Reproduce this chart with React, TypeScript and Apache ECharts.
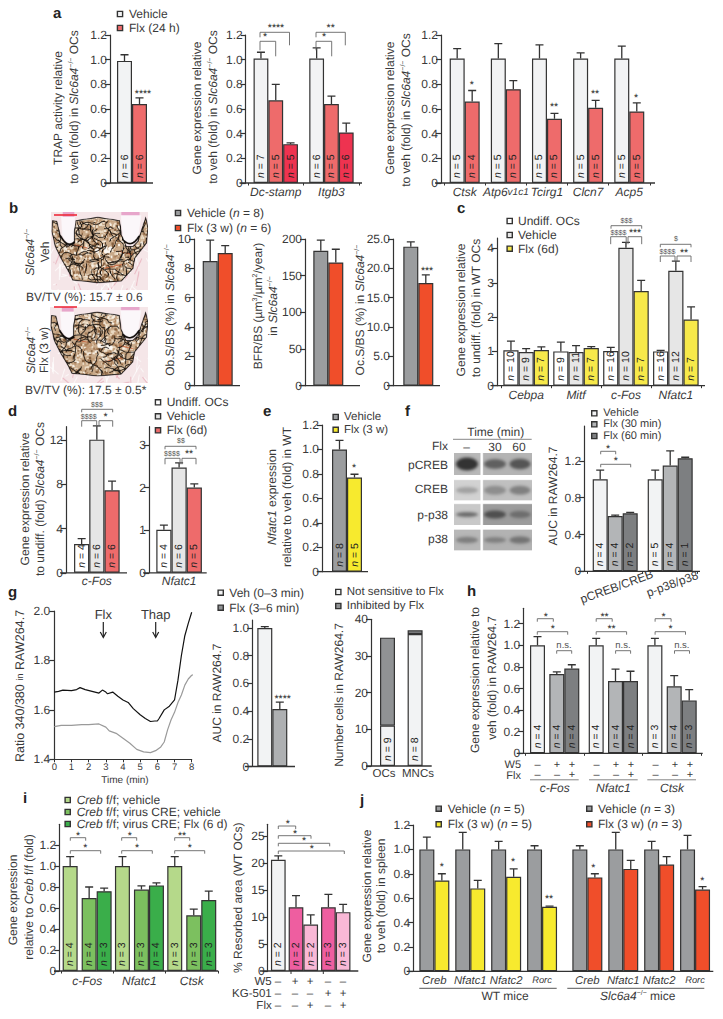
import React, { useEffect, useRef } from "react";
import * as echarts from "echarts";

const FONT = "Liberation Sans";
const INK = "#3a3a3a";
const AXIS = "#333333";
const WHITE = "#ffffff";
const PALE = "#f2f3f4";
const LIGHT = "#e6e6e6";
const SALMON = "#ee6b6b";
const CRIMSON = "#ee3350";
const GREY = "#9b9d9f";
const ORANGE = "#f04e2a";
const YELLOW = "#f7ea2e";
const LEMON = "#f7e94a";
const MID = "#b3b5b7";
const DARK = "#7d7f81";
const DARKER = "#909294";
const LIME = "#b5d98a";
const LEAF = "#7cc05f";
const GREEN = "#3aae4a";
const PINK = "#ee5ea0";
const BLUSH = "#f9b8d6";

const ticks12 = [0, 0.2, 0.4, 0.6, 0.8, 1.0, 1.2];

// a
const a1Veh = [0.99], a1VehErr = [1.04], a1VehN = [6];
const a1Flx = [0.64], a1FlxErr = [0.69], a1FlxN = [6];
const a2Cats = ["Dc-stamp", "Itgb3"];
const a2Veh = [1.01, 1.01], a2VehErr = [1.06, 1.095], a2VehN = [7, 6];
const a2Flx = [0.67, 0.64], a2FlxErr = [0.8, 0.705], a2FlxN = [5, 5];
const a2Hi = [0.315, 0.41], a2HiErr = [0.325, 0.485], a2HiN = [5, 6];
const a3Cats = ["Ctsk", "Atp6v1c1", "Tcirg1", "Clcn7", "Acp5"];
const a3Veh = [1.01, 1.01, 1.01, 1.01, 1.01], a3VehErr = [1.09, 1.13, 1.12, 1.055, 1.11], a3VehN = [5, 5, 5, 5, 5];
const a3Flx = [0.66, 0.76, 0.52, 0.61, 0.58], a3FlxErr = [0.75, 0.83, 0.565, 0.67, 0.65], a3FlxN = [4, 5, 5, 5, 5];
// b
const b1Veh = [8.5], b1VehErr = [9.93], b1Flx = [9.05], b1FlxErr = [9.55];
const b2Veh = [184], b2VehErr = [198.6], b2Flx = [168], b2FlxErr = [186];
const b3Veh = [23.7], b3VehErr = [24.5], b3Flx = [17.5], b3FlxErr = [18.9];
// c
const cCats = ["Cebpa", "Mitf", "c-Fos", "Nfatc1"];
const cUnd = [1.03, 1.0, 1.01, 1.0], cUndErr = [1.3, 1.27, 1.12, 1.03], cUndN = [10, 9, 16, 16];
const cVeh = [0.98, 0.98, 4.02, 3.35], cVehErr = [1.08, 1.17, 4.18, 3.63], cVehN = [9, 11, 10, 12];
const cFlx = [1.04, 1.1, 2.76, 1.93], cFlxErr = [1.13, 1.14, 3.07, 2.3], cFlxN = [7, 7, 7, 7];
// d
const d1Cats = ["c-Fos"];
const d1Vals = [2.6, 12.05, 7.46], d1Errs = [3.1, 13.3, 8.3], d1Ns = [4, 6, 6];
const d2Cats = ["Nfatc1"];
const d2Vals = [1.01, 2.47, 2.0], d2Errs = [1.12, 2.58, 2.09], d2Ns = [4, 6, 5];
// e
const eVeh = [1.0], eVehErr = [1.075], eVehN = [8], eFlx = [0.77], eFlxErr = [0.797], eFlxN = [5];
// f
const fCats = ["pCREB/CREB", "p-p38/p38"];
const fVeh = [1.0, 1.0], fVehErr = [1.1, 1.1], fVehN = [4, 5];
const f30 = [0.6, 1.15], f30Err = [0.61, 1.31], f30N = [4, 4];
const f60 = [0.63, 1.23], f60Err = [0.64, 1.24], f60N = [2, 1];
// g
const gBlackTime = [0, 0.25, 0.5, 1.0, 1.3, 1.5, 1.8, 2.2, 2.6, 2.8, 3.0, 3.1, 3.4, 3.7, 4.0, 4.3, 4.6, 5.0, 5.3, 5.6, 5.85, 6.0, 6.1, 6.4, 6.7, 7.0, 7.2, 7.4, 7.6, 7.8, 8.0];
const gBlack = [1.672, 1.675, 1.68, 1.678, 1.682, 1.69, 1.682, 1.675, 1.668, 1.68, 1.672, 1.665, 1.672, 1.655, 1.64, 1.63, 1.605, 1.58, 1.565, 1.553, 1.555, 1.555, 1.565, 1.6, 1.615, 1.64, 1.72, 1.82, 1.9, 1.95, 1.995];
const gGreyTime = [0, 0.4, 1.0, 1.6, 2.0, 2.6, 3.0, 3.2, 3.6, 4.0, 4.4, 4.8, 5.2, 5.6, 5.9, 6.2, 6.4, 6.6, 6.8, 7.0, 7.2, 7.4, 7.6, 7.8, 8.0, 8.26];
const gGrey = [1.532, 1.537, 1.537, 1.54, 1.54, 1.543, 1.53, 1.515, 1.505, 1.485, 1.465, 1.44, 1.43, 1.427, 1.435, 1.45, 1.47, 1.52, 1.56, 1.59, 1.63, 1.66, 1.7, 1.725, 1.74, 1.745];
const gTimeTicks = [0, 1, 2, 3, 4, 5, 6, 7, 8];
const g2Veh = [1.0], g2VehErr = [1.01], g2Flx = [0.415], g2FlxErr = [0.465];
const g3Cats = ["OCs", "MNCs"];
const g3Sensitive = [11, 36], g3Inhibited = [24, 1], g3Ns = [9, 8];
// h
const hCats = ["c-Fos", "Nfatc1", "Ctsk"];
const hVeh = [1.0, 1.0, 1.0], hVehErr = [1.08, 1.065, 1.065], hVehN = [4, 4, 3];
const hW5 = [0.735, 0.67, 0.62], hW5Err = [0.755, 0.78, 0.72], hW5N = [4, 4, 4];
const hFlx = [0.785, 0.67, 0.49], hFlxErr = [0.82, 0.76, 0.59], hFlxN = [4, 4, 3];
// i
const iCats = ["c-Fos", "Nfatc1", "Ctsk"];
const iVeh = [1.0, 1.0, 1.0], iVehErr = [1.09, 1.09, 1.09], iVehN = [4, 3, 3];
const iCre = [0.695, 0.775, 0.53], iCreErr = [0.8, 0.81, 0.59], iCreN = [4, 3, 3];
const iFlx = [0.76, 0.815, 0.675], iFlxErr = [0.79, 0.84, 0.76], iFlxN = [3, 4, 3];
const i2Vals = [20.6, 11.8, 8.6, 11.8, 10.9], i2Errs = [21.3, 13.95, 10.4, 14.2, 12.35], i2Ns = [2, 2, 2, 3, 3];
const i2Colors = [PALE, PINK, BLUSH, PINK, BLUSH];
// j
const jCats = ["Creb", "Nfatc1", "Nfatc2", "Rorc"];
const jWtVeh = [1.0, 1.0, 1.0, 1.0], jWtVehErr = [1.1, 1.14, 1.065, 1.03];
const jWtFlx = [0.745, 0.68, 0.775, 0.53], jWtFlxErr = [0.8, 0.745, 0.84, 0.535];
const jKoVeh = [1.0, 1.0, 1.0, 1.0], jKoVehErr = [1.03, 1.14, 1.065, 1.115];
const jKoFlx = [0.77, 0.84, 0.875, 0.67], jKoFlxErr = [0.8, 0.91, 0.94, 0.695];

const SLC = "{i|Slc6a4}{sup|−/−}";

function richFor(size: number) {
  return {
    i: { fontStyle: "italic", fontSize: size, fontFamily: FONT, fill: INK, color: INK },
    sup: { fontSize: Math.round(size * 0.62), fontFamily: FONT, fill: INK, color: INK, verticalAlign: "top" },
    s: { fontSize: size - 2, fontFamily: FONT, fill: INK, color: INK, fontStyle: "italic" },
    u: { fontSize: size - 3, fontFamily: FONT, fill: INK, color: INK },
  };
}

function T(text: string, x: number, y: number, o: any = {}) {
  const size = o.size || 12;
  return {
    type: "text", x, y, rotation: o.rot || 0, z: 10, silent: true,
    style: {
      text, fontSize: size, fontFamily: FONT,
      fontWeight: o.bold ? "bold" : "normal",
      fontStyle: o.italic ? "italic" : "normal",
      fill: o.color || INK, align: o.align || "left", verticalAlign: "middle",
      rich: richFor(size),
    },
  };
}
const VT = (text: string, x: number, y: number, o: any = {}) => T(text, x, y, { ...o, rot: Math.PI / 2, align: "center" });
const C = (text: string, x: number, y: number, o: any = {}) => T(text, x, y, { ...o, align: "center" });
const STAR = (text: string, x: number, y: number) => C(text, x, y + 2, { size: 10.5, color: "#2e2e2e" });
const DOL = (text: string, x: number, y: number) => C(text, x, y, { size: 7.2, color: "#555" });
const LET = (text: string, x: number, y: number) => T(text, x, y, { size: 15, bold: true, color: "#222" });
function L(x1: number, y1: number, x2: number, y2: number, stroke = AXIS, lineWidth = 1.2) {
  return { type: "line", z: 10, silent: true, shape: { x1, y1, x2, y2 }, style: { stroke, lineWidth } };
}
function BR(x1: number, x2: number, y: number, d1: number, d2: number) {
  return {
    type: "polyline", z: 10, silent: true,
    shape: { points: [[x1, y + d1], [x1, y], [x2, y], [x2, y + d2]] },
    style: { stroke: "#666", lineWidth: 0.9, fill: "none" },
  };
}
function SQ(x: number, y: number, fill: string, label: string, tx: number, size = 12) {
  return [
    { type: "rect", z: 10, silent: true, shape: { x: x - 2.6, y: y - 2.6, width: 5.2, height: 5.2 }, style: { fill, stroke: AXIS, lineWidth: 1.4 } },
    T(label, tx, y, { size }),
  ];
}

type S = { name?: string; values?: number[]; errs?: number[]; ns?: number[]; color?: string; stack?: string; spacer?: number };

function addPanel(opt: any, p: any) {
  const gi = opt.grid.length;
  const n = p.cats.length;
  opt.grid.push({ left: p.bandStart, top: p.top, width: p.pitch * n, height: p.bottom - p.top });
  opt.xAxis.push({
    gridIndex: gi, type: "category", data: p.cats,
    axisLine: { show: false },
    axisTick: { show: n > 1 && p.catTicks !== false, length: 2.5, lineStyle: { color: AXIS, width: 1 } },
    axisLabel: {
      show: !!p.showCats, interval: 0, margin: p.labelMargin ?? 3,
      fontFamily: FONT, fontSize: p.labelSize || 12, fontStyle: p.labelItalic === false ? "normal" : "italic",
      color: INK, formatter: p.labelFmt, rich: richFor(p.labelSize || 12),
    },
    splitLine: { show: false },
  });
  const dec = p.dec ?? 1;
  opt.yAxis.push({
    gridIndex: gi, type: "value", min: 0, max: p.max, offset: p.bandStart - p.axisX,
    axisLine: { show: !p.hideY, lineStyle: { color: AXIS, width: 1.2 } },
    axisTick: { show: !p.hideY, length: 5, customValues: p.ticks, lineStyle: { color: AXIS, width: 1.2 } },
    axisLabel: {
      show: !p.hideY, customValues: p.ticks, margin: 3, fontFamily: FONT, fontSize: 12, color: INK,
      formatter: (v: number) => (v === 0 ? "0" : v.toFixed(dec)),
    },
    splitLine: { show: false },
  });
  if (p.x1) opt.graphic.push(L(p.x0, p.bottom, p.x1, p.bottom, AXIS, 1.3));

  const barW = p.barW || 15;
  const seen: Record<string, number> = {};
  const slots: number[] = [];
  const centres: number[] = [];
  (p.series as S[]).forEach((s, k) => {
    if (s.stack && seen[s.stack] !== undefined) { centres[k] = seen[s.stack]; return; }
    centres[k] = slots.length;
    if (s.stack) seen[s.stack] = slots.length;
    slots.push(s.spacer ?? barW);
  });
  const total = slots.reduce((a, b) => a + b, 0);
  const offsetOf = (k: number) => {
    let c = -total / 2;
    for (let j = 0; j < centres[k]; j++) c += slots[j];
    return c + slots[centres[k]] / 2;
  };

  (p.series as S[]).forEach((s, k) => {
    if (s.spacer) {
      opt.series.push({
        type: "bar", xAxisIndex: gi, yAxisIndex: gi, barWidth: s.spacer, barGap: 0,
        data: p.cats.map(() => null), silent: true,
      });
      return;
    }
    const ns = s.ns;
    opt.series.push({
      type: "bar", name: s.name, xAxisIndex: gi, yAxisIndex: gi, barWidth: barW, barGap: 0, stack: s.stack,
      data: s.values, silent: true,
      itemStyle: { color: s.color, borderColor: AXIS, borderWidth: 1.2 },
      label: ns ? {
        show: true, position: "insideBottom", rotate: 90, distance: 5, align: "left", verticalAlign: "middle",
        fontFamily: FONT, fontSize: 10.5, color: "#222",
        formatter: (pr: any) => `{i|n} = ${ns[pr.dataIndex]}`,
        rich: { i: { fontStyle: "italic", fontSize: 10.5, fontFamily: FONT, color: "#222" } },
      } : { show: false },
    });
    if (s.errs) {
      const off = offsetOf(k);
      opt.series.push({
        type: "custom", xAxisIndex: gi, yAxisIndex: gi, silent: true, z: 1,
        data: s.errs.map((e, c) => [c, e, (s.values as number[])[c]]),
        encode: { x: 0, y: [1, 2] },
        renderItem: (_: any, api: any) => {
          const t = api.coord([api.value(0), api.value(1)]);
          const b = api.coord([api.value(0), api.value(2)]);
          const x = t[0] + off;
          return {
            type: "polyline",
            shape: { points: [[x, b[1]], [x, t[1]], [x - 4, t[1]], [x + 4, t[1]]] },
            style: { stroke: AXIS, lineWidth: 1.3, fill: "none" },
          };
        },
      });
    }
  });
}

function makeRng(seed: number) {
  let s = seed;
  return () => { s = (s * 1664525 + 1013904223) % 4294967296; return s / 4294967296; };
}

function histology(seed: number, w: number, h: number) {
  const k = 3;
  const cv = document.createElement("canvas");
  cv.width = w * k; cv.height = h * k;
  const c = cv.getContext("2d") as CanvasRenderingContext2D;
  const r = makeRng(seed);
  const sx = (w * k) / 290, sy = (h * k) / 233;
  const P = (z: number[]) => [(z[0] - 95) * sx, (z[1] - 22) * sy];
  const poly = (pts: number[][]) => {
    c.beginPath();
    pts.forEach((p, i) => { const q = P(p); if (i) c.lineTo(q[0], q[1]); else c.moveTo(q[0], q[1]); });
    c.closePath();
  };
  c.fillStyle = "#f5e6e8"; c.fillRect(0, 0, cv.width, cv.height);
  c.lineWidth = 3;
  for (let i = 0; i < 60; i++) {
    c.strokeStyle = i % 3 ? "rgba(255,255,255,0.75)" : "rgba(222,130,150,0.45)";
    const a = P([95 + r() * 290, 130 + r() * 125]);
    c.beginPath(); c.moveTo(a[0], a[1]); c.lineTo(a[0] + (r() - 0.5) * 60, a[1] + r() * 50); c.stroke();
  }
  c.fillStyle = "#e7a6cb";
  poly([[130, 22], [165, 22], [165, 36], [130, 36]]); c.fill();
  poly([[305, 22], [360, 22], [360, 32], [305, 32]]); c.fill();
  c.fillStyle = "#fbf7fa";
  poly([[125, 36], [166, 36], [166, 112], [145, 122], [128, 90]]); c.fill();
  poly([[303, 32], [365, 32], [355, 105], [335, 122], [312, 110]]); c.fill();
  const shape = [[170, 48], [235, 38], [300, 48], [305, 90], [320, 125], [340, 125], [355, 110], [368, 70], [378, 40], [385, 70], [380, 115], [345, 160], [340, 190], [305, 228], [235, 233], [160, 225], [148, 200], [125, 160], [108, 125], [98, 80], [100, 48], [112, 50], [122, 90], [145, 125], [165, 115], [165, 80]];
  c.save();
  poly(shape); c.clip();
  c.fillStyle = "#c9aa8a"; c.fillRect(0, 0, cv.width, cv.height);
  const cols = ["#ead9c2", "#a57c58", "#f6efe4", "#bf9874", "#86603f", "#efe0cb"];
  for (let i = 0; i < 1500; i++) {
    c.fillStyle = cols[Math.floor(r() * cols.length)];
    c.fillRect(r() * cv.width, r() * cv.height, 3 + r() * 6, 3 + r() * 6);
  }
  c.fillStyle = "#fbf7f2";
  const wp = P([250, 135]);
  for (let i = 0; i < 12; i++) {
    c.beginPath(); c.arc(wp[0] + (r() - 0.5) * 50, wp[1] + (r() - 0.5) * 26, 2 + r() * 5, 0, 7); c.fill();
  }
  c.strokeStyle = "#c9623a"; c.lineWidth = 2.5;
  [[165, 120, 205, 130], [255, 190, 310, 178], [300, 140, 340, 150]].forEach((q) => {
    const a = P([q[0], q[1]]), b = P([q[2], q[3]]);
    c.beginPath(); c.moveTo(a[0], a[1]); c.lineTo(b[0], b[1]); c.stroke();
  });
  c.strokeStyle = "#15100c"; c.lineWidth = 2.4; c.lineJoin = "round";
  for (let i = 0; i < 110; i++) {
    let a = P([110 + r() * 270, 45 + r() * 185]);
    let ang = r() * 6.28;
    c.beginPath(); c.moveTo(a[0], a[1]);
    const steps = 3 + Math.floor(r() * 5);
    for (let j = 0; j < steps; j++) {
      ang += (r() - 0.5) * 1.8;
      a = [a[0] + Math.cos(ang) * 10, a[1] + Math.sin(ang) * 10];
      c.lineTo(a[0], a[1]);
    }
    c.stroke();
  }
  c.restore();
  c.strokeStyle = "#100c0a"; c.lineWidth = 2.6; poly(shape); c.stroke();
  c.lineWidth = 5; c.lineCap = "round";
  c.beginPath();
  const n1 = P([124, 95]), n2 = P([145, 125]), n3 = P([164, 112]);
  c.moveTo(n1[0], n1[1]); c.quadraticCurveTo(n2[0], n2[1] + 6, n3[0], n3[1]); c.stroke();
  c.beginPath();
  const m1 = P([310, 105]), m2 = P([335, 126]), m3 = P([358, 95]);
  c.moveTo(m1[0], m1[1]); c.quadraticCurveTo(m2[0], m2[1] + 6, m3[0], m3[1]); c.stroke();
  c.strokeStyle = "#e6e6e0"; c.lineWidth = 1.6; c.setLineDash([3, 3]);
  c.beginPath();
  const t1 = P([172, 50]), t2 = P([235, 38]), t3 = P([298, 50]);
  c.moveTo(t1[0], t1[1]); c.quadraticCurveTo(t2[0], t2[1] - 2, t3[0], t3[1]); c.stroke();
  return cv.toDataURL("image/png");
}

function blot() {
  const k = 3, w = 78, h = 98;
  const cv = document.createElement("canvas");
  cv.width = w * k; cv.height = h * k;
  const c = cv.getContext("2d") as CanvasRenderingContext2D;
  c.fillStyle = "#fff"; c.fillRect(0, 0, cv.width, cv.height);
  const rows = [
    { y: 0, h: 22, bg: ["#b8b8b8", "#b4b4b4"], b: [["#333333", 8], ["#606060", 6], ["#555555", 6.5]] },
    { y: 27, h: 20.5, bg: ["#d2d2d2", "#c0c0c0"], b: [["#a2a2a2", 4], ["#8e8e8e", 5.5], ["#808080", 5.5]] },
    { y: 51, h: 21, bg: ["#c8c8c8", "#9c9c9c"], b: [["#6a6a6a", 3], ["#4f4f4f", 5], ["#6e6e6e", 4.5]] },
    { y: 76.5, h: 21, bg: ["#b8b8b8", "#b2b2b2"], b: [["#7f7f7f", 4], ["#808080", 3.5], ["#747474", 4.5]] },
  ];
  const cx = [13, 41, 66], rx = [11, 11, 10.5];
  rows.forEach((row: any) => {
    [[0, 26.5, 0], [29, 49, 1]].forEach(([x, wd, idx]) => {
      c.save();
      c.beginPath(); c.rect(x * k, row.y * k, wd * k, row.h * k); c.clip();
      c.fillStyle = row.bg[idx]; c.fillRect(x * k, row.y * k, wd * k, row.h * k);
      (c as any).filter = "blur(4px)";
      row.b.forEach((b: any, i: number) => {
        if ((i === 0) !== (idx === 0)) return;
        c.fillStyle = b[0];
        c.beginPath();
        c.ellipse(cx[i] * k, (row.y + row.h / 2) * k, rx[i] * k, b[1] * k * 0.8, 0, 0, 7);
        c.fill();
      });
      c.restore();
    });
  });
  return cv.toDataURL("image/png");
}

function buildOption() {
  const opt: any = {
    animation: false, backgroundColor: "#ffffff", tooltip: { show: false },
    grid: [], xAxis: [], yAxis: [], series: [], graphic: [],
  };
  const g = opt.graphic as any[];

  // a
  addPanel(opt, { axisX: 110, x0: 104, x1: 153, top: 35, bottom: 183, max: 1.2, ticks: ticks12, bandStart: 110, pitch: 44, cats: [""],
    series: [{ name: "Vehicle", values: a1Veh, errs: a1VehErr, ns: a1VehN, color: PALE }, { name: "Flx (24 h)", values: a1Flx, errs: a1FlxErr, ns: a1FlxN, color: SALMON }] });
  addPanel(opt, { axisX: 245.7, x0: 239.5, x1: 362, top: 35, bottom: 183, max: 1.2, ticks: ticks12, bandStart: 247.9, pitch: 55.7, cats: a2Cats, showCats: true, barW: 14.8,
    series: [{ values: a2Veh, errs: a2VehErr, ns: a2VehN, color: PALE }, { values: a2Flx, errs: a2FlxErr, ns: a2FlxN, color: SALMON }, { values: a2Hi, errs: a2HiErr, ns: a2HiN, color: CRIMSON }] });
  addPanel(opt, { axisX: 441, x0: 435, x1: 655, top: 35, bottom: 183, max: 1.2, ticks: ticks12, bandStart: 444.1, pitch: 41.15, cats: a3Cats, showCats: true,
    labelFmt: (v: string) => (v === "Atp6v1c1" ? "Atp6{s|v1c1}" : v),
    series: [{ values: a3Veh, errs: a3VehErr, ns: a3VehN, color: PALE }, { values: a3Flx, errs: a3FlxErr, ns: a3FlxN, color: SALMON }] });
  g.push(LET("a", 53, 13));
  g.push(...SQ(120, 14, PALE, "Vehicle", 129), ...SQ(120, 28, SALMON, "Flx (24 h)", 129));
  g.push(VT("TRAP activity relative", 58, 108), VT(`to veh (fold) in ${SLC} OCs`, 74, 107));
  g.push(VT("Gene expression relative", 197, 108), VT(`to veh (fold) in ${SLC} OCs`, 213, 107));
  g.push(VT("Gene expression relative", 390, 108), VT(`to veh (fold) in ${SLC} OCs`, 406, 110));
  g.push(STAR("****", 143, 92));
  g.push(BR(260, 289.5, 32.3, 5, 13), BR(260, 275.7, 41.3, 9, 15), STAR("****", 276, 26), STAR("*", 265, 35));
  g.push(BR(316, 345.3, 32.3, 5, 13), BR(316, 331.7, 41.3, 9, 15), STAR("**", 330.7, 26), STAR("*", 324, 35));
  g.push(STAR("*", 471.7, 83), STAR("**", 554, 105), STAR("**", 595, 92), STAR("*", 636, 96));

  // b
  addPanel(opt, { axisX: 194, x0: 188, x1: 240, top: 239, bottom: 385.7, max: 10, ticks: [0, 2, 4, 6, 8, 10], dec: 0, bandStart: 194, pitch: 47.4, cats: [""],
    series: [{ values: b1Veh, errs: b1VehErr, color: GREY }, { values: b1Flx, errs: b1FlxErr, color: ORANGE }] });
  addPanel(opt, { axisX: 305, x0: 299, x1: 360, top: 239, bottom: 385.7, max: 200, ticks: [0, 50, 100, 150, 200], dec: 0, bandStart: 305, pitch: 46.6, cats: [""],
    series: [{ values: b2Veh, errs: b2VehErr, color: GREY }, { values: b2Flx, errs: b2FlxErr, color: ORANGE }] });
  addPanel(opt, { axisX: 393, x0: 387, x1: 440, top: 239, bottom: 385.7, max: 25, ticks: [0, 5, 10, 15, 20, 25], dec: 1, bandStart: 393, pitch: 50.6, cats: [""],
    series: [{ values: b3Veh, errs: b3VehErr, color: GREY }, { values: b3Flx, errs: b3FlxErr, color: ORANGE }] });
  g.push(LET("b", 9, 208));
  g.push({ type: "image", z: 5, silent: true, x: 51, y: 212, style: { image: histology(7, 97, 78), width: 97, height: 78 } });
  g.push({ type: "image", z: 5, silent: true, x: 50, y: 307, style: { image: histology(21, 98, 76), width: 98, height: 76 } });
  g.push(L(54, 215, 77, 215, "#ee2b3a", 1.6), L(54, 307, 77, 307, "#ee2b3a", 1.6));
  g.push(T("BV/TV (%): 15.7 ± 0.6", 26, 297), T("BV/TV (%): 17.5 ± 0.5*", 25, 390));
  g.push(VT(SLC, 30, 252), VT("Veh", 45, 252), VT(SLC, 31, 350), VT("Flx (3 w)", 44, 350));
  g.push(...SQ(178, 213, GREY, "Vehicle ({i|n} = 8)", 187), ...SQ(178, 228, ORANGE, "Flx (3 w) ({i|n} = 6)", 187));
  g.push(VT(`Ob.S/BS (%) in ${SLC}`, 170, 310), VT("BFR/BS (µm{sup|3}/µm{sup|2}/year)", 258, 306), VT(`in ${SLC}`, 273, 306), VT(`Oc.S/BS (%) in ${SLC}`, 360, 310));
  g.push(STAR("***", 427, 269));

  // c
  addPanel(opt, { axisX: 497, x0: 490.5, x1: 705, top: 238, bottom: 385.7, max: 4.306, ticks: [0, 1, 2, 3, 4], dec: 0, bandStart: 501.2, pitch: 49.9, barW: 15.2, cats: cCats, showCats: true, labelMargin: 3.5,
    series: [{ values: cUnd, errs: cUndErr, ns: cUndN, color: WHITE }, { values: cVeh, errs: cVehErr, ns: cVehN, color: LIGHT }, { values: cFlx, errs: cFlxErr, ns: cFlxN, color: LEMON }] });
  g.push(LET("c", 457, 208));
  g.push(...SQ(509.7, 221, WHITE, "Undiff. OCs", 518), ...SQ(509.7, 235, LIGHT, "Vehicle", 518), ...SQ(509.7, 248.7, LEMON, "Flx (6d)", 518));
  g.push(VT("Gene expression relative", 460.7, 310), VT("to undiff. (fold) in WT OCs", 476, 308));
  g.push(BR(611, 641.7, 225.7, 3, 3), BR(610.7, 626.2, 236.7, 7.5, 7.5), BR(628, 641.7, 236.7, 7.5, 7.5), DOL("$$$", 626.5, 220), DOL("$$$$", 618.5, 232), STAR("***", 635, 231));
  g.push(BR(660.3, 691, 244.3, 3, 3), BR(660.3, 675, 256, 6, 6), BR(677, 691, 256, 6, 6), DOL("$", 676, 238.7), DOL("$$$$", 667.5, 251.5), STAR("**", 684, 251));

  // d
  addPanel(opt, { axisX: 66, x0: 60, x1: 127, top: 426.7, bottom: 572.8, max: 13.22, ticks: [0, 4, 8, 12], dec: 0, bandStart: 70, pitch: 53.7, barW: 15.2, cats: d1Cats, showCats: true, labelMargin: 2,
    series: [0, 1, 2].map((k) => ({ values: [d1Vals[k]], errs: [d1Errs[k]], ns: [d1Ns[k]], color: [WHITE, LIGHT, SALMON][k] })) });
  addPanel(opt, { axisX: 149, x0: 143, x1: 206.7, top: 426.7, bottom: 572.8, max: 3.43, ticks: [0, 1, 2, 3], dec: 0, bandStart: 152, pitch: 54.2, barW: 15.2, cats: d2Cats, showCats: true, labelMargin: 2,
    series: [0, 1, 2].map((k) => ({ values: [d2Vals[k]], errs: [d2Errs[k]], ns: [d2Ns[k]], color: [WHITE, LIGHT, SALMON][k] })) });
  g.push(LET("d", 8, 411));
  g.push(...SQ(158, 402.3, WHITE, "Undiff. OCs", 166.7), ...SQ(158, 416.3, LIGHT, "Vehicle", 166.7), ...SQ(158, 430.3, SALMON, "Flx (6d)", 166.7));
  g.push(VT("Gene expression relative", 25, 499), VT(`to undiff. (fold) ${SLC} OCs`, 40, 499));
  g.push(BR(81.7, 112.7, 409.3, 3, 3), BR(81.7, 96.7, 420.7, 6, 6), BR(99, 112.7, 420.7, 6, 6), DOL("$$$", 97, 404), DOL("$$$$", 88.7, 416), STAR("*", 105.5, 415));
  g.push(BR(165, 196, 446.3, 3, 3), BR(165, 180, 458.3, 6, 6), BR(182, 196, 458.3, 6, 6), DOL("$$", 181, 440.7), DOL("$$$$", 172, 453.3), STAR("**", 189, 452));

  // e
  addPanel(opt, { axisX: 322, x0: 316.7, x1: 368, top: 425, bottom: 571.7, max: 1.2, ticks: ticks12, bandStart: 322, pitch: 50, cats: [""],
    series: [{ values: eVeh, errs: eVehErr, ns: eVehN, color: GREY }, { values: eFlx, errs: eFlxErr, ns: eFlxN, color: YELLOW }] });
  g.push(LET("e", 263, 411));
  g.push(...SQ(335.7, 417, GREY, "Vehicle", 344, 11.5), ...SQ(335.7, 429.8, YELLOW, "Flx (3 w)", 344, 11.5));
  g.push(VT("{i|Nfatc1} expression", 271.7, 497), VT("relative to veh (fold) in WT", 286.7, 497));
  g.push(STAR("*", 354, 466));

  // f
  addPanel(opt, { axisX: 584.3, x0: 578, x1: 700, top: 426, bottom: 571.3, max: 1.58, ticks: [0, 0.4, 0.8, 1.2], bandStart: 587.7, pitch: 55, cats: fCats,
    series: [{ values: fVeh, errs: fVehErr, ns: fVehN, color: PALE }, { values: f30, errs: f30Err, ns: f30N, color: MID }, { values: f60, errs: f60Err, ns: f60N, color: DARK }] });
  g.push(LET("f", 405, 411));
  g.push({ type: "image", z: 5, silent: true, x: 454, y: 453, style: { image: blot(), width: 78, height: 98 } });
  g.push(C("Time (min)", 495.7, 432), L(453, 439.3, 531.7, 439.3, "#888", 1));
  g.push(T("Flx", 448, 446, { align: "right" }), C("–", 466.7, 447), C("30", 495, 447), C("60", 519, 447));
  g.push(T("pCREB", 448, 465, { align: "right" }), T("CREB", 448, 489.3, { align: "right" }), T("p-p38", 448, 515, { align: "right" }), T("p38", 448, 539.3, { align: "right" }));
  g.push(...SQ(594.3, 413.3, PALE, "Vehicle", 603.3, 11), ...SQ(594.3, 424.3, MID, "Flx (30 min)", 603.3, 11), ...SQ(594.3, 436, DARK, "Flx (60 min)", 603.3, 11));
  g.push(VT("AUC in RAW264.7", 552.7, 496));
  g.push(BR(600.7, 615.7, 451.3, 3, 3), BR(600.7, 630.7, 464.3, 3, 3), STAR("*", 608, 447), STAR("*", 615.7, 459));
  g.push(C(fCats[0], 616.7, 586.7, { rot: 0.35 }), C(fCats[1], 672.3, 584, { rot: 0.35 }));

  // g
  {
    const gi = opt.grid.length;
    opt.grid.push({ left: 54.3, top: 611, width: 137.4, height: 148.3 });
    opt.xAxis.push({
      gridIndex: gi, type: "value", min: 0, max: 8,
      axisLine: { show: true, lineStyle: { color: AXIS, width: 1.2 } },
      axisTick: { show: true, length: 3, customValues: gTimeTicks, lineStyle: { color: AXIS } },
      axisLabel: { customValues: gTimeTicks, margin: 3, fontFamily: FONT, fontSize: 9.5, color: INK },
      splitLine: { show: false },
    });
    opt.yAxis.push({
      gridIndex: gi, type: "value", min: 1.4, max: 2.0, offset: 1,
      axisLine: { show: true, lineStyle: { color: AXIS, width: 1.2 } },
      axisTick: { show: true, length: 5, customValues: [1.4, 1.6, 1.8, 2.0], lineStyle: { color: AXIS, width: 1.2 } },
      axisLabel: { customValues: [1.4, 1.6, 1.8, 2.0], margin: 3, fontFamily: FONT, fontSize: 12, color: INK, formatter: (v: number) => v.toFixed(1) },
      splitLine: { show: false },
    });
    opt.series.push({ type: "line", xAxisIndex: gi, yAxisIndex: gi, showSymbol: false, clip: false, silent: true, data: gBlackTime.map((t, i) => [t, gBlack[i]]), lineStyle: { color: "#111", width: 1.2 } });
    opt.series.push({ type: "line", xAxisIndex: gi, yAxisIndex: gi, showSymbol: false, clip: false, silent: true, data: gGreyTime.map((t, i) => [t, gGrey[i]]), lineStyle: { color: "#9a9a9a", width: 1.2 } });
  }
  addPanel(opt, { axisX: 252.3, x0: 245, x1: 295, top: 620, bottom: 766.5, max: 1.058, ticks: [0, 0.2, 0.4, 0.6, 0.8, 1.0], bandStart: 252.3, pitch: 40, cats: [""],
    series: [{ values: g2Veh, errs: g2VehErr, color: PALE }, { values: g2Flx, errs: g2FlxErr, color: "#aeb0b2" }] });
  addPanel(opt, { axisX: 371, x0: 366, x1: 431.7, top: 619.3, bottom: 766, max: 40, ticks: [0, 10, 20, 30, 40], dec: 0, bandStart: 373.7, pitch: 27.6, cats: g3Cats, catTicks: false,
    series: [{ values: g3Sensitive, ns: g3Ns, color: PALE, stack: "cells" }, { values: g3Inhibited, color: DARKER, stack: "cells" }] });
  g.push(C(g3Cats[0], 384, 774, { size: 11.5 }), C(g3Cats[1], 418, 774, { size: 11.5 }));
  g.push(LET("g", 8, 592));
  g.push(VT("Ratio 340/380 {u|in} RAW264.7", 20, 686, { size: 12.5 }));
  g.push(C("Flx", 103.3, 614, { size: 13 }), C("Thap", 155.7, 614, { size: 13 }));
  [103.3, 155.7].forEach((x) => {
    g.push(L(x, 622, x, 637, "#222", 1.2));
    g.push({ type: "polyline", z: 10, silent: true, shape: { points: [[x - 3, 632], [x, 637.5], [x + 3, 632]] }, style: { stroke: "#222", lineWidth: 1.2, fill: "none" } });
  });
  g.push(C("Time (min)", 125, 780.7, { size: 10 }));
  g.push(...SQ(220.7, 592.7, PALE, "Veh (0–3 min)", 229.3), ...SQ(220.7, 607.7, "#909294", "Flx (3–6 min)", 229.3));
  g.push(VT("AUC in RAW264.7", 216.7, 693), STAR("****", 282.7, 697));
  g.push(...SQ(338.3, 592, PALE, "Not sensitive to Flx", 346.7, 11.5), ...SQ(338.3, 606, DARKER, "Inhibited by Flx", 346.7, 11.5));
  g.push(VT("Number cells in RAW264.7", 339.3, 695));

  // h
  addPanel(opt, { axisX: 523.3, x0: 516.7, x1: 702.7, top: 608.3, bottom: 753.3, max: 1.343, ticks: ticks12, bandStart: 525.3, pitch: 58.7, cats: hCats, showCats: true, labelMargin: 28.5,
    series: [{ values: hVeh, errs: hVehErr, ns: hVehN, color: PALE }, { spacer: 4.3 }, { values: hW5, errs: hW5Err, ns: hW5N, color: MID }, { values: hFlx, errs: hFlxErr, ns: hFlxN, color: DARK }] });
  g.push(LET("h", 467, 591));
  g.push(VT("Gene expression relative to", 475, 680), VT("veh (fold) in RAW264.7", 491.7, 678));
  g.push(T("W5", 521, 765, { align: "right", size: 11 }), T("Flx", 521, 775.7, { align: "right", size: 11 }));
  [537.5, 596.5, 655.5].forEach((x0, k) => {
    const xs = [x0, x0 + 19.5, x0 + 34.5];
    g.push(C("–", xs[0], 765, { size: 11 }), C("+", xs[1], 765, { size: 11 }), C("+", xs[2], 765, { size: 11 }));
    g.push(C("–", xs[0], 775.2, { size: 11 }), C("–", xs[1], 775.2, { size: 11 }), C("+", xs[2], 775.2, { size: 11 }));
    const a = [530, 589, 647.3][k], b = [578.7, 637.7, 696][k];
    g.push(L(a, 779.8, b, 779.8, "#777", 0.9));
  });
  [["*", "*"], ["**", "**"], ["*", "*"]].forEach((st, k) => {
    const d = k * 58.9;
    g.push(BR(537.3 + d, 553.3 + d, 618.7, 3, 3), BR(537.3 + d, 567.7 + d, 631.7, 3, 3), BR(556.7 + d, 571.7 + d, 650.7, 3, 3));
    g.push(STAR(st[0], 545.7 + d, 614.5), STAR(st[1], 552.7 + d, 627), C("n.s.", 564 + d, 645.3, { size: 9.5, color: "#555" }));
  });

  // i
  addPanel(opt, { axisX: 59.3, x0: 54, x1: 218.3, top: 824.3, bottom: 971, max: 1.397, ticks: ticks12, bandStart: 61, pitch: 52.3, cats: iCats, showCats: true, labelMargin: 4,
    series: [{ values: iVeh, errs: iVehErr, ns: iVehN, color: LIME }, { spacer: 4 }, { values: iCre, errs: iCreErr, ns: iCreN, color: LEAF }, { values: iFlx, errs: iFlxErr, ns: iFlxN, color: GREEN }] });
  addPanel(opt, { axisX: 267.7, x0: 260, x1: 358.3, top: 824.3, bottom: 971, max: 27.16, ticks: [0, 5, 10, 15, 20, 25], dec: 0, bandStart: 269, pitch: 83.4, cats: [""], barW: 14.7,
    series: [
      { values: [i2Vals[0]], errs: [i2Errs[0]], ns: [i2Ns[0]], color: i2Colors[0] }, { spacer: 3 },
      { values: [i2Vals[1]], errs: [i2Errs[1]], ns: [i2Ns[1]], color: i2Colors[1] },
      { values: [i2Vals[2]], errs: [i2Errs[2]], ns: [i2Ns[2]], color: i2Colors[2] }, { spacer: 3 },
      { values: [i2Vals[3]], errs: [i2Errs[3]], ns: [i2Ns[3]], color: i2Colors[3] },
      { values: [i2Vals[4]], errs: [i2Errs[4]], ns: [i2Ns[4]], color: i2Colors[4] },
    ] });
  g.push(LET("i", 23, 798));
  g.push(...SQ(67.7, 800, LIME, "{i|Creb} f/f; vehicle", 76.7), ...SQ(67.7, 812, LEAF, "{i|Creb} f/f; virus CRE; vehicle", 76.7), ...SQ(67.7, 824, GREEN, "{i|Creb} f/f; virus CRE; Flx (6 d)", 76.7));
  g.push(VT("Gene expression", 13.3, 900), VT("relative to {i|Creb} f/f (fold)", 29.3, 897));
  g.push(BR(70.3, 85.7, 837.7, 3, 3), BR(70.3, 100.7, 850.7, 3, 3), STAR("*", 78, 834), STAR("*", 85.3, 846));
  g.push(BR(121.7, 136.7, 837.7, 3, 3), BR(121.7, 152.3, 850.7, 3, 3), STAR("*", 129.7, 834), STAR("*", 137, 846));
  g.push(BR(174.7, 189.7, 837.7, 3, 3), BR(174.7, 204.7, 850.7, 3, 3), STAR("**", 182, 834), STAR("*", 189.7, 846));
  g.push(L(291, 971, 291, 974, AXIS, 1), L(323.3, 971, 323.3, 974, AXIS, 1));
  const i2X = [278, 295, 310, 328, 343];
  [["W5", 982, "–++––"], ["KG-501", 994, "–––++"], ["Flx", 1006, "––+–+"]].forEach(([lab, y, signs]: any) => {
    g.push(T(lab, 271.7, y, { align: "right", size: 11.5 }));
    i2X.forEach((x, k) => g.push(C(signs[k], x, y, { size: 11.5 })));
  });
  g.push(VT("% Resorbed area (WT OCs)", 238.3, 897.7));
  g.push(BR(278.3, 295.7, 826, 3, 3), BR(278.3, 311, 835.7, 3, 3), BR(278.3, 329.7, 843.3, 3, 3), BR(278.3, 344.3, 851, 3, 3));
  g.push(STAR("*", 287.7, 822), STAR("*", 295, 831.7), STAR("*", 304, 839), STAR("*", 311.7, 847.3));

  // j
  const jFmt = (v: string) => (v === "Rorc" ? "{s|Rorc}" : v);
  addPanel(opt, { axisX: 413.3, x0: 406.7, x1: 713.3, top: 825, bottom: 971.3, max: 1.2, ticks: ticks12, bandStart: 416.4, pitch: 35.9, cats: jCats, showCats: true, labelMargin: 4, labelSize: 11.3, catTicks: false, labelFmt: jFmt,
    series: [{ values: jWtVeh, errs: jWtVehErr, color: GREY }, { values: jWtFlx, errs: jWtFlxErr, color: YELLOW }] });
  addPanel(opt, { axisX: 569.4, hideY: true, top: 825, bottom: 971.3, max: 1.2, ticks: ticks12, bandStart: 569.4, pitch: 35.9, cats: jCats, showCats: true, labelMargin: 4, labelSize: 11.3, catTicks: false, labelFmt: jFmt,
    series: [{ values: jKoVeh, errs: jKoVehErr, color: GREY }, { values: jKoFlx, errs: jKoFlxErr, color: ORANGE }] });
  g.push(LET("j", 360, 800));
  g.push(...SQ(438.7, 808.7, GREY, "Vehicle ({i|n} = 5)", 447.7), ...SQ(438.7, 824.3, YELLOW, "Flx (3 w) ({i|n} = 5)", 447.7));
  g.push(...SQ(589.3, 808.7, GREY, "Vehicle ({i|n} = 3)", 598), ...SQ(589.3, 824.3, ORANGE, "Flx (3 w) ({i|n} = 3)", 598));
  g.push(VT("Gene expression relative", 366.7, 896), VT("to veh (fold) in spleen", 381, 896));
  g.push(STAR("*", 441.7, 865), STAR("*", 513, 860), STAR("**", 549, 897), STAR("*", 593.3, 865.7), STAR("*", 702.3, 879));
  g.push(L(419.3, 988.3, 556.7, 988.3, "#555", 1), L(567.3, 988.3, 704.3, 988.3, "#555", 1));
  g.push(C("WT mice", 505, 996), C(`${SLC} mice`, 637.7, 996));

  opt.graphic = { elements: g };
  return opt;
}

export default function App() {
  const ref = useRef<HTMLDivElement>(null);
  useEffect(() => {
    const chart = echarts.init(ref.current as HTMLDivElement, null, { renderer: "svg" });
    chart.setOption(buildOption());
    return () => chart.dispose();
  }, []);
  return <div ref={ref} style={{ position: "absolute", left: 0, top: 0, width: 723, height: 1019, opacity: 0.999, textRendering: "geometricPrecision" }} />;
}
